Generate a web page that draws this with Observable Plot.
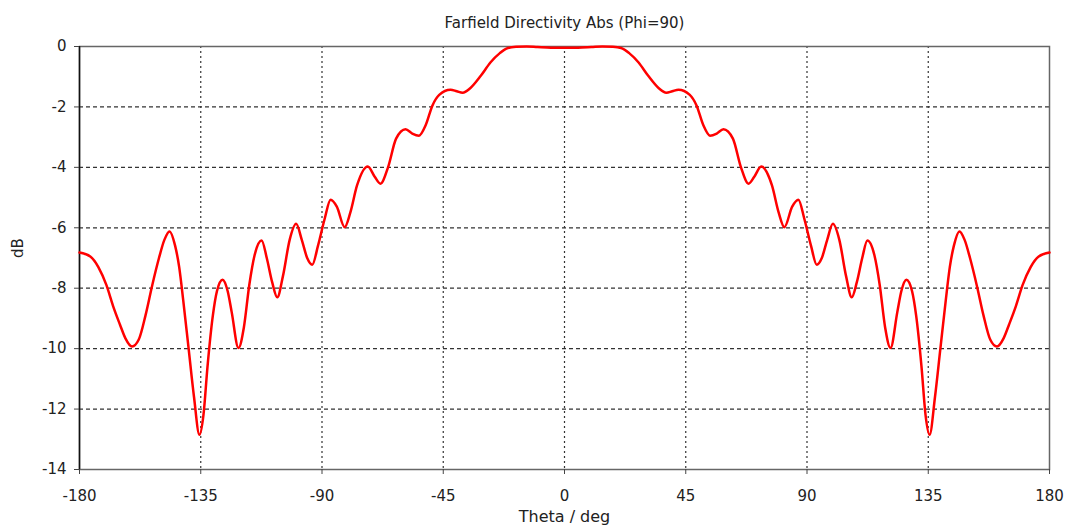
<!DOCTYPE html>
<html>
<head>
<meta charset="utf-8">
<script src="https://cdn.jsdelivr.net/npm/d3@7"></script>
<script src="https://cdn.jsdelivr.net/npm/@observablehq/plot@0.6"></script>
<style>
  html, body { margin: 0; padding: 0; background: #fff; }
</style>
</head>
<body>
<div id="chart"></div>
<script>
const titleText = "Farfield Directivity Abs (Phi=90)";
const xLabel = "Theta / deg";
const yLabel = "dB";
const xTicks = [-180, -135, -90, -45, 0, 45, 90, 135, 180];
const yTicks = [0, -2, -4, -6, -8, -10, -12, -14];

const theta = [
  -180, -176, -173, -170, -167.5, -165, -163, -160.5, -158, -155.5, -153, -150.5, -148.5, -146.6,
  -144.5, -143, -141.5, -139.5, -137.5, -135.5, -134, -132.5, -130.5, -129, -126.9, -125, -123.5,
  -121, -119, -117, -115, -112.4, -110.5, -108.5, -106.6, -104.5, -102, -99.6, -97.5, -95.5, -93.6,
  -91.5, -89, -86.8, -84.5, -81.6, -79.5, -77, -73, -70.5, -68.3, -65.5, -62.5, -59, -56.5, -54,
  -51.5, -49, -46.5, -42.3, -40, -37.8, -35, -31, -27.5, -24, -21, -18, -14, -10, -5,
  0,
  5, 10, 14, 18, 21, 24, 27.5, 31, 35, 37.8, 40, 42.3, 46.5, 49, 51.5, 54, 56.5, 59, 62.5, 65.5,
  68.3, 70.5, 73, 77, 79.5, 81.6, 84.5, 86.8, 89, 91.5, 93.6, 95.5, 97.5, 99.6, 102, 104.5, 106.6,
  108.5, 110.5, 112.4, 115, 117, 119, 121, 123.5, 125, 126.9, 129, 130.5, 132.5, 134, 135.5, 137.5,
  139.5, 141.5, 143, 144.5, 146.6, 148.5, 150.5, 153, 155.5, 158, 160.5, 163, 165, 167.5, 170, 173,
  176, 180
];
const directivity = [
  -6.82, -6.95, -7.3, -7.9, -8.6, -9.2, -9.65, -9.93, -9.7, -8.9, -7.9, -7.0, -6.4, -6.12,
  -6.6, -7.3, -8.4, -10.0, -11.6, -12.85, -12.2, -10.6, -8.9, -8.1, -7.72, -8.1, -8.8,
  -9.98, -9.3, -7.9, -6.9, -6.42, -7.0, -7.8, -8.3, -7.6, -6.4, -5.87, -6.4, -7.0, -7.22,
  -6.6, -5.7, -5.07, -5.3, -5.98, -5.5, -4.6, -3.97, -4.3, -4.54, -4.0, -3.05, -2.74, -2.88, -2.95,
  -2.6, -1.95, -1.6, -1.43, -1.48, -1.53, -1.38, -0.96, -0.53, -0.22, -0.05, -0.01, 0, -0.02, -0.04,
  -0.04,
  -0.04, -0.02, 0, -0.01, -0.05, -0.22, -0.53, -0.96, -1.38, -1.53, -1.48, -1.43, -1.6, -1.95, -2.6, -2.95, -2.88, -2.74, -3.05, -4.0,
  -4.54, -4.3, -3.97, -4.6, -5.5, -5.98, -5.3, -5.07, -5.7, -6.6, -7.22, -7.0, -6.4, -5.87, -6.4, -7.6, -8.3,
  -7.8, -7.0, -6.42, -6.9, -7.9, -9.3, -9.98, -8.8, -8.1, -7.72, -8.1, -8.9, -10.6, -12.2, -12.85, -11.6,
  -10.0, -8.4, -7.3, -6.6, -6.12, -6.4, -7.0, -7.9, -8.9, -9.7, -9.93, -9.65, -9.2, -8.6, -7.9, -7.3,
  -6.95, -6.82
];

const data = theta.map((t, i) => ({theta: t, db: directivity[i]}));
const fmt = d => String(d);

const chart = Plot.plot({
  width: 1070,
  height: 531,
  marginLeft: 79,
  marginRight: 21,
  marginTop: 46,
  marginBottom: 62,
  style: {fontFamily: "DejaVu Sans, Verdana, sans-serif", fontSize: "15px", color: "#222", background: "#fff"},
  x: {domain: [-180, 180], label: null},
  y: {domain: [-14, 0], label: null},
  marks: [
    Plot.gridX(xTicks.slice(1, -1), {stroke: "#333", strokeOpacity: 1, strokeWidth: 1.2, strokeDasharray: "2,3"}),
    Plot.gridY(yTicks.slice(1, -1), {stroke: "#333", strokeOpacity: 1, strokeWidth: 1.2, strokeDasharray: "4,3"}),
    Plot.frame({stroke: "#666", strokeWidth: 1.5}),
    Plot.ruleX([-180], {stroke: "#111", strokeWidth: 1.5}),
    Plot.axisX(xTicks, {tickSize: 5, tickPadding: 16, tickFormat: fmt, label: null, fontSize: 15, stroke: "#444"}),
    Plot.axisY(yTicks, {tickSize: 5, tickPadding: 8, tickFormat: fmt, label: null, fontSize: 15, stroke: "#444"}),
    Plot.line(data, {x: "theta", y: "db", stroke: "#ff0000", strokeWidth: 2.5, curve: "monotone-x"}),
    Plot.text([titleText], {frameAnchor: "top", dy: -29, fontSize: 15, fill: "#222"}),
    Plot.text([xLabel], {frameAnchor: "bottom", dy: 52, fontSize: 16, fill: "#222"}),
    Plot.text([yLabel], {frameAnchor: "left", dx: -61, rotate: -90, fontSize: 15, fill: "#222"})
  ]
});
document.getElementById("chart").appendChild(chart);
</script>
</body>
</html>
